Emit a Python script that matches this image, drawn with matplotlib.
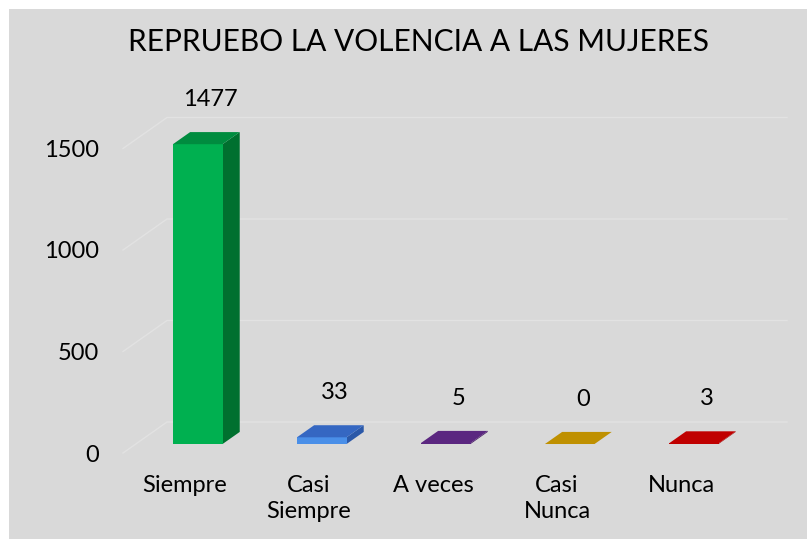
import matplotlib
matplotlib.use("Agg")
import matplotlib.pyplot as plt
from matplotlib.patches import Polygon, Rectangle

plt.rcParams['font.family'] = ['Lato', 'DejaVu Sans']

title = "REPRUEBO LA VOLENCIA A LAS MUJERES"
categories = ["Siempre", "Casi\nSiempre", "A veces", "Casi\nNunca", "Nunca"]
values = [1477, 33, 5, 0, 3]
front_colors = ["#00b050", "#4a8fe8", "#5b2780", "#bf9000", "#c00000"]
top_colors = ["#008c3f", "#3567c2", "#5b2780", "#bf9000", "#c00000"]
side_colors = ["#00702f", "#2b58a8", "#4a1f68", "#9c7500", "#a00000"]
yticks = [0, 500, 1000, 1500]

W, H = 807, 539
fig = plt.figure(figsize=(W / 100, H / 100), dpi=100, facecolor="white")
fig.patches.append(Rectangle((9 / W, 0), 1 - 9 / W, 530 / H,
                             transform=fig.transFigure, facecolor="#d9d9d9",
                             edgecolor="none", zorder=-10))

# 3D look: floor depth vector in data units (categories, values)
DX, DY = 0.355, 152.7
f0, f1 = 0.29, 0.68          # bar front/back as fraction of the depth
bw = 0.40
ymax = 1700

ax = fig.add_axes([123 / W, (H - 453) / H, 664 / W, ymax * 0.203 / H])
ax.set_xlim(-0.5, 4.5 + DX)
ax.set_ylim(0, ymax)
ax.patch.set_visible(False)
for s in ax.spines.values():
    s.set_visible(False)

# gridlines: side wall slant then back wall
for v in yticks:
    ax.plot([-0.5, -0.5 + DX, 4.5 + DX], [v, v + DY, v + DY],
            color="#e2e2e2", lw=1, zorder=1, clip_on=False)

for i, (v, fc, tc, sc) in enumerate(zip(values, front_colors, top_colors, side_colors)):
    x0 = i - bw / 2 + f0 * DX
    x1 = i + bw / 2 + f0 * DX
    y0 = f0 * DY
    ddx, ddy = (f1 - f0) * DX, (f1 - f0) * DY
    front = [(x0, y0), (x1, y0), (x1, y0 + v), (x0, y0 + v)]
    side = [(x1, y0), (x1 + ddx, y0 + ddy), (x1 + ddx, y0 + ddy + v), (x1, y0 + v)]
    top = [(x0, y0 + v), (x1, y0 + v), (x1 + ddx, y0 + ddy + v), (x0 + ddx, y0 + ddy + v)]
    ax.add_patch(Polygon(side, closed=True, facecolor=sc, edgecolor="none", zorder=3))
    ax.add_patch(Polygon(front, closed=True, facecolor=fc, edgecolor="none", zorder=4))
    ax.add_patch(Polygon(top, closed=True, facecolor=tc, edgecolor="none", zorder=5))
    ax.text(i + f0 * DX + 0.75 * ddx, y0 + ddy + v + 160, str(v),
            ha="center", va="center", fontsize=17, color="black")

ax.set_yticks(yticks)
ax.set_yticklabels([str(t) for t in yticks], fontsize=17)
ax.set_xticks(range(len(categories)))
ax.set_xticklabels(categories, fontsize=17, linespacing=1.3, va="top")
ax.tick_params(axis="y", length=0, pad=17)
ax.tick_params(axis="x", length=0, pad=16)

fig.text(419 / W, 1 - 42 / H, title, ha="center", va="center",
         fontsize=21.5, color="black")

fig.savefig("out.png", dpi=100, facecolor="white")
